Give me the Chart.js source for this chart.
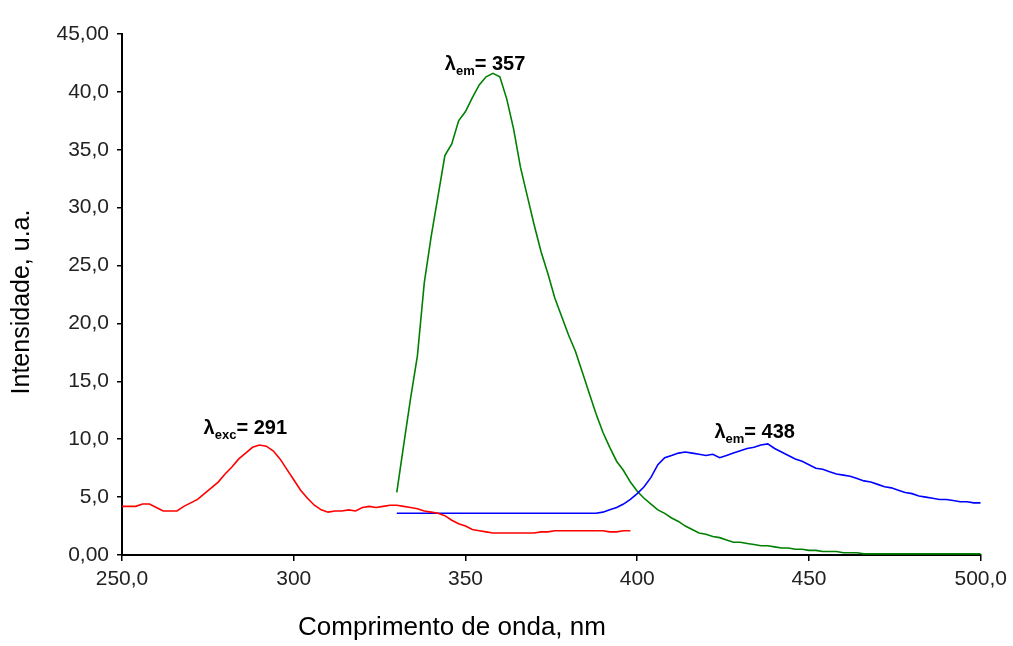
<!DOCTYPE html>
<html>
<head>
<meta charset="utf-8">
<script src="https://cdn.jsdelivr.net/npm/chart.js@4/dist/chart.umd.min.js"></script>
<style>
  html, body { margin: 0; padding: 0; background: #fff; }
  #wrap { width: 1013px; height: 646px; position: relative; }
</style>
</head>
<body>
<div id="wrap"><canvas id="chart"></canvas></div>
<script>
// wavelength grids (nm): start and step of each recorded spectrum
let excStart = 250, excStep = 2;
let emStart = 330, emStep = 2;

// excitation spectrum (red), 250..398 nm
let excValues = [
    4.2, 4.2, 4.2, 4.4, 4.4, 4.1, 3.8, 3.8, 3.8, 4.2,
    4.5, 4.8, 5.3, 5.8, 6.3, 7.0, 7.6, 8.3, 8.8, 9.3,
    9.5, 9.4, 9.0, 8.3, 7.4, 6.5, 5.6, 4.9, 4.3, 3.9,
    3.7, 3.8, 3.8, 3.9, 3.8, 4.1, 4.2, 4.1, 4.2, 4.3,
    4.3, 4.2, 4.1, 4.0, 3.8, 3.7, 3.6, 3.4, 3.0, 2.7,
    2.5, 2.2, 2.1, 2.0, 1.9, 1.9, 1.9, 1.9, 1.9, 1.9,
    1.9, 2.0, 2.0, 2.1, 2.1, 2.1, 2.1, 2.1, 2.1, 2.1,
    2.1, 2.0, 2.0, 2.1, 2.1
];

// emission spectrum peaking at 357 nm (green), 330..500 nm
let em357Values = [
    5.4, 9.5, 13.5, 17.2, 23.5, 27.5, 31.0, 34.5, 35.5, 37.5,
    38.3, 39.5, 40.6, 41.3, 41.6, 41.3, 39.4, 36.8, 33.5, 31.0,
    28.5, 26.2, 24.3, 22.2, 20.6, 19.0, 17.6, 15.8, 14.0, 12.2,
    10.6, 9.3, 8.1, 7.3, 6.3, 5.5, 4.9, 4.4, 3.9, 3.6,
    3.2, 2.9, 2.5, 2.2, 1.9, 1.8, 1.6, 1.5, 1.3, 1.1,
    1.1, 1.0, 0.9, 0.8, 0.8, 0.7, 0.6, 0.6, 0.5, 0.5,
    0.4, 0.4, 0.3, 0.3, 0.3, 0.2, 0.2, 0.2, 0.1, 0.1,
    0.1, 0.1, 0.1, 0.1, 0.1, 0.1, 0.1, 0.1, 0.1, 0.1,
    0.1, 0.1, 0.1, 0.1, 0.1, 0.1
];

// emission spectrum peaking at 438 nm (blue), 330..500 nm
let em438Values = [
    3.6, 3.6, 3.6, 3.6, 3.6, 3.6, 3.6, 3.6, 3.6, 3.6,
    3.6, 3.6, 3.6, 3.6, 3.6, 3.6, 3.6, 3.6, 3.6, 3.6,
    3.6, 3.6, 3.6, 3.6, 3.6, 3.6, 3.6, 3.6, 3.6, 3.6,
    3.7, 3.9, 4.1, 4.4, 4.8, 5.3, 5.9, 6.7, 7.8, 8.4,
    8.6, 8.8, 8.9, 8.8, 8.7, 8.6, 8.7, 8.4, 8.6, 8.8,
    9.0, 9.2, 9.3, 9.5, 9.6, 9.2, 8.9, 8.6, 8.3, 8.1,
    7.8, 7.5, 7.4, 7.2, 7.0, 6.9, 6.8, 6.6, 6.4, 6.3,
    6.1, 5.9, 5.8, 5.6, 5.4, 5.3, 5.1, 5.0, 4.9, 4.8,
    4.8, 4.7, 4.6, 4.6, 4.5, 4.5
];

// peak labels: subscript, value text, anchor (nm, intensity at baseline)
let peakNames = ['exc', 'em', 'em'];
let peakTexts = ['= 291', '= 357', '= 438'];
let peakAnchorX = [285.9, 355.7, 434.2];
let peakAnchorY = [10.45, 41.9, 10.1];

function toPoints(start, step, values) {
    let points = [];
    for (let i = 0; i < values.length; i++) {
        points.push({ x: start + i * step, y: values[i] });
    }
    return points;
}

let peakLabels = {
    id: 'peakLabels',
    afterDatasetsDraw: function(chart) {
        let ctx = chart.ctx;
        let xs = chart.scales.x, ys = chart.scales.y;
        let big = 'bold 20px "Liberation Sans", Arial, sans-serif';
        let small = 'bold 13px "Liberation Sans", Arial, sans-serif';
        ctx.save();
        ctx.fillStyle = '#000';
        ctx.textBaseline = 'alphabetic';
        ctx.textAlign = 'left';
        for (let i = 0; i < peakTexts.length; i++) {
            ctx.font = big;
            let w1 = ctx.measureText('λ').width;
            let w3 = ctx.measureText(peakTexts[i]).width;
            ctx.font = small;
            let w2 = ctx.measureText(peakNames[i]).width;
            let total = w1 + w2 + w3;
            let x = xs.getPixelForValue(peakAnchorX[i]) - total / 2;
            let y = ys.getPixelForValue(peakAnchorY[i]);
            ctx.font = big;
            ctx.fillText('λ', x, y);
            ctx.font = small;
            ctx.fillText(peakNames[i], x + w1, y + 5);
            ctx.font = big;
            ctx.fillText(peakTexts[i], x + w1 + w2, y);
        }
        ctx.restore();
    }
};

let axisTitles = {
    id: 'axisTitles',
    afterDraw: function(chart) {
        let ctx = chart.ctx;
        ctx.save();
        ctx.fillStyle = '#000';
        ctx.textAlign = 'center';
        ctx.textBaseline = 'middle';
        ctx.font = '26px "Liberation Sans", Arial, sans-serif';
        ctx.fillText('Comprimento de onda, nm', 452, 628);
        ctx.font = '25px "Liberation Sans", Arial, sans-serif';
        ctx.translate(22, 302);
        ctx.rotate(-Math.PI / 2);
        ctx.fillText('Intensidade, u.a.', 0, 0);
        ctx.restore();
    }
};

function lineSet(color, points) {
    return {
        data: points,
        borderColor: color,
        backgroundColor: color,
        borderWidth: 1.6,
        pointRadius: 0,
        tension: 0,
        fill: false
    };
}

let data = {
    datasets: [
        lineSet('#ff0000', toPoints(excStart, excStep, excValues)),
        lineSet('#0000ff', toPoints(emStart, emStep, em438Values)),
        lineSet('#008000', toPoints(emStart, emStep, em357Values))
    ]
};

let tickFont = { family: '"Liberation Sans", Arial, sans-serif', size: 21 };

let config = {
    type: 'line',
    data: data,
    options: {
        responsive: false,
        animation: false,
        layout: { padding: { left: 0, right: 31, top: 34, bottom: 0 } },
        plugins: { legend: { display: false }, tooltip: { enabled: false } },
        scales: {
            x: {
                type: 'linear',
                min: 250,
                max: 500,
                afterFit: function(scale) { scale.height = 91; },
                ticks: {
                    stepSize: 50,
                    color: '#222',
                    font: tickFont,
                    padding: 6,
                    maxRotation: 0,
                    callback: function(v) {
                        if (v === 250 || v === 500) return v + ',0';
                        return String(v);
                    }
                },
                grid: { drawOnChartArea: false, drawTicks: true, tickLength: 6, color: '#000', lineWidth: 1.5 },
                border: { color: '#000', width: 2 }
            },
            y: {
                min: 0,
                max: 45,
                afterFit: function(scale) { scale.width = 122; },
                ticks: {
                    stepSize: 5,
                    color: '#222',
                    font: tickFont,
                    padding: 8,
                    callback: function(v) {
                        if (v === 0 || v === 45) return v + ',00';
                        return v + ',0';
                    }
                },
                grid: { drawOnChartArea: false, drawTicks: true, tickLength: 5, color: '#000', lineWidth: 1.5 },
                border: { color: '#000', width: 2 }
            }
        }
    },
    plugins: [peakLabels, axisTitles]
};

let canvas = document.getElementById('chart');
canvas.width = 1013;
canvas.height = 646;
let myChart = new Chart(canvas, config);
</script>
</body>
</html>
